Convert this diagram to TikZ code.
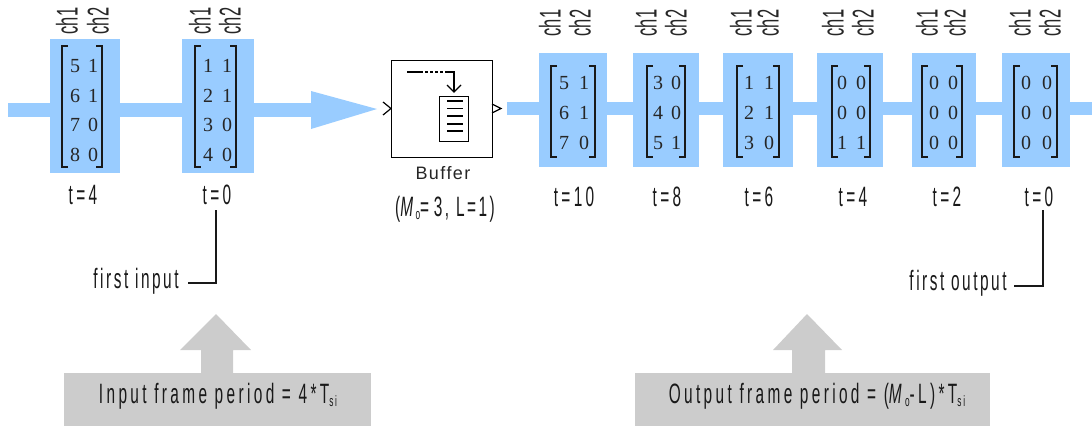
\documentclass[tikz,border=0pt]{standalone}
\usepackage{fontspec}
\setmainfont{Liberation Sans}
\newfontfamily\lab[FakeStretch=0.55,LetterSpace=12]{Liberation Sans}
\newfontfamily\labtight[FakeStretch=0.55,LetterSpace=9]{Liberation Sans}
\newfontfamily\chf[FakeStretch=0.55]{Liberation Sans}
\newfontfamily\labwide[LetterSpace=8]{Liberation Sans}
\newfontfamily\dig{Liberation Serif}
\definecolor{sigblue}{HTML}{99CCFF}
\definecolor{notegray}{HTML}{CCCCCC}
\newcommand{\subs}[1]{\raisebox{-3pt}{\fontsize{15}{15}\selectfont #1}}
\tikzset{
  x=1pt,y=-1pt,
  blockbg/.style={fill=sigblue,inner sep=0pt},
  labeltext/.style={inner sep=0pt,text=black!90,font=\lab\fontsize{28}{28}\selectfont},
  tighttext/.style={inner sep=0pt,text=black!90,font=\labtight\fontsize{28}{28}\selectfont},
  chtext/.style={inner sep=0pt,text=black!85,rotate=90,font=\chf\fontsize{30}{30}\selectfont},
  digit/.style={inner sep=0pt,text=black!85,font=\dig\fontsize{20}{20}\selectfont},
  brack/.style={draw=black!90,line width=1.2pt},
  bar/.style={draw=sigblue,line width=14pt},
  notebox/.style={fill=notegray,inner sep=0pt},
  blockline/.style={draw=black,line width=1.2pt},
  leader/.style={draw=black!90,line width=1.1pt},
}
\newcommand{\blk}[8]{%
  \node[blockbg,minimum width=#3pt-#2pt,minimum height=#5pt-#4pt,anchor=north west] (#1) at (#2,#4) {};
  \draw[brack] (#6+6,#7) -- (#6,#7) -- (#6,#8) -- (#6+6,#8);
}
\newcommand{\rbr}[3]{\draw[brack] (#1-6,#2) -- (#1,#2) -- (#1,#3) -- (#1-6,#3);}
\newcommand{\dg}[3]{\node[digit] at (#1,#2) {#3};}
\newcommand{\chs}[4]{%
  \node[chtext] (#1a) at (#2,#4) {ch1};
  \node[chtext] (#1b) at (#3,#4) {ch2};
}
\begin{document}
\begin{tikzpicture}
\useasboundingbox (0,0) rectangle (1092,426);
% signal bars
\coordinate (instart) at (8,110);
\coordinate (inend) at (312,110);
\coordinate (outstart) at (507,108.5);
\coordinate (outend) at (1092,108.5);
\draw[bar] (instart) -- (inend);
\draw[bar,line width=13pt] (outstart) -- (outend);
\fill[sigblue] (311,91) -- (377,109) -- (311,129) -- cycle;
% input blocks
\blk{a1}{50}{120}{39}{173}{62}{46}{167}\rbr{102}{46}{167}
\blk{a2}{182}{254}{39}{173}{195}{46}{167}\rbr{236}{46}{167}
\chs{cha1}{67}{98}{21}\chs{cha2}{200}{230}{21}
\dg{75}{66}{5}\dg{93}{66}{1}\dg{75}{96}{6}\dg{93}{96}{1}\dg{75}{125}{7}\dg{93}{125}{0}\dg{75}{155}{8}\dg{93}{155}{0}
\dg{208}{66}{1}\dg{227}{66}{1}\dg{208}{96}{2}\dg{227}{96}{1}\dg{208}{125}{3}\dg{227}{125}{0}\dg{208}{155}{4}\dg{227}{155}{0}
\node[labeltext] (ta1) at (83,195) {t=4};
\node[labeltext] (ta2) at (217,195) {t=0};
% buffer
\node[draw=black,line width=1.2pt,fill=white,minimum width=101pt,minimum height=97pt,anchor=north west,inner sep=0pt] (buf) at (391,60) {};
\coordinate (bufinA) at (383,102);\coordinate (bufinB) at (383,115);
\draw[blockline] (bufinA) -- (buf.west |- 0,108.5) -- (bufinB);
\coordinate (bufoutA) at (492,104);\coordinate (bufoutB) at (492,113);\coordinate (bufoutT) at (501,108.5);
\draw[blockline] (bufoutA) -- (bufoutT) -- (bufoutB);
\node[draw=black,line width=1.2pt,minimum width=29pt,minimum height=45pt,anchor=north west,inner sep=0pt] (doc) at (439,96) {};
\foreach \yy in {101,108.5,116,124,131}{\draw[line width=1.1pt] (447,\yy) -- (463,\yy);}
\coordinate (fs) at (407,72);\coordinate (fc) at (454,72);
\draw[line width=1.1pt] (fs) -- (420,72);
\draw[line width=1.1pt,dash pattern=on 3pt off 2pt] (420,72) -- (446,72);
\draw[line width=1.1pt] (446,72) -- (fc) -- (454,92);
\draw[line width=1.1pt] (447,85) -- (454,92) -- (461,85);
\node[inner sep=0pt,text=black!85,font=\labwide\fontsize{18}{18}\selectfont] (buflab) at (443,173) {Buffer};
\node[tighttext] (bufpar) at (445,209) {(\textit{M}\subs{o}=\,3, L=1)};
% output blocks
\blk{b1}{539}{607}{53}{167}{551}{66}{157}\rbr{595}{66}{157}
\blk{b2}{633}{699}{53}{167}{647}{66}{157}\rbr{685}{66}{157}
\blk{b3}{723}{793}{53}{167}{737}{66}{157}\rbr{779}{66}{157}
\blk{b4}{817}{883}{53}{167}{832}{66}{157}\rbr{870}{66}{157}
\blk{b5}{912}{976}{53}{167}{922}{66}{157}\rbr{962}{66}{157}
\blk{b6}{1002}{1070}{53}{167}{1014}{66}{157}\rbr{1057}{66}{157}
\chs{chb1}{550}{580}{23}\chs{chb2}{646}{676}{23}\chs{chb3}{741}{768}{23}
\chs{chb4}{833}{863}{23}\chs{chb5}{927}{955}{23}\chs{chb6}{1020}{1050}{23}
\dg{564}{83}{5}\dg{584}{83}{1}\dg{564}{113}{6}\dg{584}{113}{1}\dg{564}{143}{7}\dg{584}{143}{0}
\dg{658}{83}{3}\dg{676}{83}{0}\dg{658}{113}{4}\dg{676}{113}{0}\dg{658}{143}{5}\dg{676}{143}{1}
\dg{749}{83}{1}\dg{769}{83}{1}\dg{749}{113}{2}\dg{769}{113}{1}\dg{749}{143}{3}\dg{769}{143}{0}
\dg{842}{83}{0}\dg{861}{83}{0}\dg{842}{113}{0}\dg{861}{113}{0}\dg{842}{143}{1}\dg{861}{143}{1}
\dg{934}{83}{0}\dg{953}{83}{0}\dg{934}{113}{0}\dg{953}{113}{0}\dg{934}{143}{0}\dg{953}{143}{0}
\dg{1026}{83}{0}\dg{1047}{83}{0}\dg{1026}{113}{0}\dg{1047}{113}{0}\dg{1026}{143}{0}\dg{1047}{143}{0}
\node[labeltext] (tb1) at (574,197) {t=10};
\node[labeltext] (tb2) at (667,197) {t=8};
\node[labeltext] (tb3) at (759,197) {t=6};
\node[labeltext] (tb4) at (853,197) {t=4};
\node[labeltext] (tb5) at (947,197) {t=2};
\node[labeltext] (tb6) at (1039,197) {t=0};
% first input / output
\node[tighttext] (fi) at (136,281) {first input};
\node[tighttext] (fo) at (958,283) {first output};
\coordinate (fiA) at (188,283);\coordinate (fiB) at (216,283);\coordinate (fiC) at (216,210);
\draw[leader] (fiA) -- (fiB) -- (fiC);
\coordinate (foA) at (1014,286);\coordinate (foB) at (1043,286);\coordinate (foC) at (1043,210);
\draw[leader] (foA) -- (foB) -- (foC);
% grey notes
\fill[notegray] (216,314) -- (251,350) -- (233,350) -- (233,374) -- (201,374) -- (201,350) -- (180,350) -- cycle;
\fill[notegray] (807,314) -- (842,350) -- (825,350) -- (825,374) -- (792,374) -- (792,350) -- (773,350) -- cycle;
\node[notebox,minimum width=307pt,minimum height=53pt,anchor=north west] (nin) at (64,373) {};
\node[notebox,minimum width=355pt,minimum height=53pt,anchor=north west] (nout) at (635,373) {};
\node[labeltext] at (218,398) (nintext) {\strut Input frame period = 4*T\subs{si}};
\node[labeltext] at (817,398) (nouttext) {\strut Output frame period = (\textit{M}\subs{o}-L)*T\subs{si}};
\end{tikzpicture}
\end{document}
